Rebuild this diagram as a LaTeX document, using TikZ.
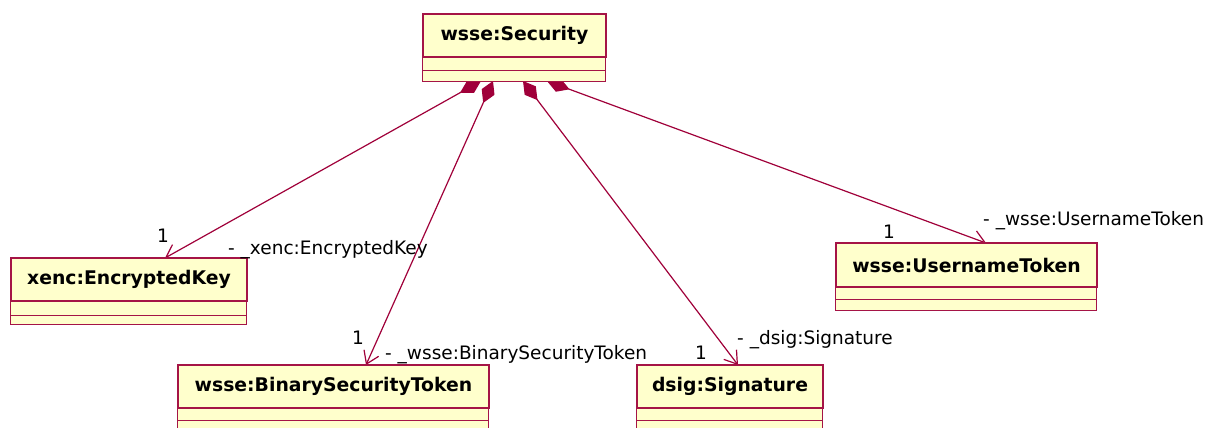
\documentclass[tikz,border=0pt]{standalone}
\usepackage{fontspec}
\setmainfont{DejaVu Sans}
\usetikzlibrary{arrows.meta}
\definecolor{umlline}{RGB}{160,0,58}
\definecolor{umlborder}{RGB}{165,20,70}
\definecolor{umlfill}{RGB}{255,255,204}
\tikzset{
  clsname/.style={draw=umlborder, fill=umlfill, line width=1.3pt, inner sep=0pt,
    font=\fontsize{18.8}{22}\selectfont\bfseries},
  clscomp/.style={draw=umlborder, fill=umlfill, line width=1.3pt},
  assoc/.style={draw=umlline, line width=1.2pt,
    {Diamond[length=24pt,width=14pt,fill=umlline]}-{Straight Barb[length=12pt,width=16pt]}},
  lbl/.style={inner sep=0pt, anchor=base west, font=\fontsize{18.5}{22}\selectfont},
  mult/.style={inner sep=0pt, anchor=base, font=\fontsize{18.5}{22}\selectfont}
}
\begin{document}
\begin{tikzpicture}[x=1pt,y=-1pt]
\useasboundingbox (0,0) rectangle (1215,428);
\clip (0,0) rectangle (1215,428);
\fill[white] (0,0) rectangle (1215,428);

% connector end points
\coordinate (s1) at (481,81);
\coordinate (s2) at (493,81);
\coordinate (s3) at (523,81);
\coordinate (s4) at (547,81);
\coordinate (e1) at (165,258);
\coordinate (e2) at (366,365);
\coordinate (e3) at (738,365);
\coordinate (e4) at (986,243);

\draw[assoc] (s1) -- (e1);
\draw[assoc] (s2) -- (e2);
\draw[assoc] (s3) -- (e3);
\draw[assoc] (s4) -- (e4);

% wsse:Security
\node[clsname, minimum width=183pt, minimum height=43pt] (sec) at (514.5,35.5) {wsse:Security};
\draw[clscomp] (sec.south west) rectangle ++(183,13);
\draw[clscomp] ([yshift=-13pt]sec.south west) rectangle ++(183,11);

% xenc:EncryptedKey
\node[clsname, minimum width=236pt, minimum height=43pt] (ek) at (129,279.5) {xenc:EncryptedKey};
\draw[clscomp] (ek.south west) rectangle ++(236,14);
\draw[clscomp] ([yshift=-14pt]ek.south west) rectangle ++(236,9);

% wsse:BinarySecurityToken
\node[clsname, minimum width=311pt, minimum height=43pt] (bst) at (333.5,386.5) {wsse:BinarySecurityToken};
\draw[clscomp] (bst.south west) rectangle ++(311,12);
\draw[clscomp] ([yshift=-12pt]bst.south west) rectangle ++(311,12);

% dsig:Signature
\node[clsname, minimum width=186pt, minimum height=43pt] (sig) at (730,386.5) {dsig:Signature};
\draw[clscomp] (sig.south west) rectangle ++(186,12);
\draw[clscomp] ([yshift=-12pt]sig.south west) rectangle ++(186,12);

% wsse:UsernameToken
\node[clsname, minimum width=261pt, minimum height=44pt] (ut) at (966.5,265) {wsse:UsernameToken};
\draw[clscomp] (ut.south west) rectangle ++(261,12);
\draw[clscomp] ([yshift=-12pt]ut.south west) rectangle ++(261,11);

% role names and multiplicities
\node[mult] (m1) at (163,242) {1};
\node[lbl] (r1) at (228,254) {- \_xenc:EncryptedKey};
\node[mult] (m2) at (358,344) {1};
\node[lbl] (r2) at (385,359) {- \_wsse:BinarySecurityToken};
\node[mult] (m3) at (701,359) {1};
\node[lbl] (r3) at (737,344) {- \_dsig:Signature};
\node[mult] (m4) at (889,238) {1};
\node[lbl] (r4) at (983,225) {- \_wsse:UsernameToken};
\end{tikzpicture}
\end{document}
